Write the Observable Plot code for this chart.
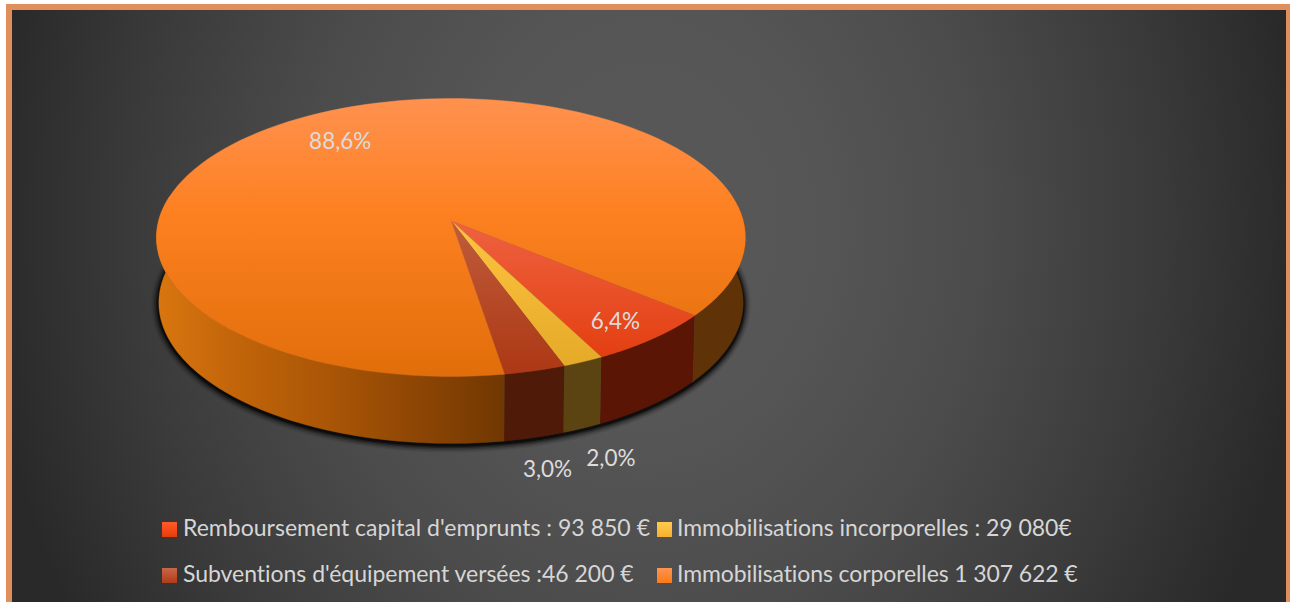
<!DOCTYPE html>
<html lang="fr">
<head>
<meta charset="utf-8">
<script src="https://cdn.jsdelivr.net/npm/d3@7"></script>
<script src="https://cdn.jsdelivr.net/npm/@observablehq/plot@0.6"></script>
<style>
html,body{margin:0;padding:0;background:#fff;width:1290px;height:602px;overflow:hidden}
#panel{position:absolute;left:6px;top:4px;width:1284px;height:598px;box-sizing:border-box;
  border:solid #DF8E5C;border-width:6px 4px 0 6px;
  background:radial-gradient(ellipse 660px 800px at 633px 215px,#585858 0%,#565656 25%,#4c4c4c 50%,#3a3a3a 78%,#292929 100%)}
#chart{position:absolute;left:0;top:0}
#chart svg{display:block;background:transparent}
.lg{position:absolute;font:23px Lato,sans-serif;color:#d6d6d6;white-space:nowrap;line-height:28px;height:28px}
.sw{position:absolute;width:15px;height:15px}
</style>
</head>
<body>
<div id="panel"></div>
<div id="chart"></div>
<div id="legend"></div>
<script>
// ---- data ----
const categories = ["Remboursement capital d'emprunts", "Immobilisations incorporelles", "Subventions d'équipement versées", "Immobilisations corporelles"];
const amounts = [93850, 29080, 46200, 1307622];
const shares = [6.4, 2.0, 3.0, 88.6];
const percentLabels = ["6,4%", "2,0%", "3,0%", "88,6%"];
const legendLabels = ["Remboursement capital d'emprunts : 93 850 €", "Immobilisations incorporelles : 29 080€", "Subventions d'équipement versées :46 200 €", "Immobilisations corporelles 1 307 622 €"];

// ---- styling ----
const topStops = [
  [["0","#EE6240"],["1","#E23A0A"]],
  [["0","#FFC440"],["1","#E2A826"]],
  [["0","#C05C3C"],["1","#AC3714"]],
  [["0","#FF914F"],["0.42","#FD8020"],["1","#E16E0A"]]
];
const sideColors = ["#5A1504", "#5C4412", "#4F1A08", null];
const legendStops = [["#FF5A2A","#E83C0C"],["#FFCB50","#F6B02C"],["#C8664A","#B03C18"],["#FF9450","#FC7A16"]];
const legendWidths = [467, 395, 451, 401];
const shadowLayers = [[15, 0.08], [12, 0.12], [9, 0.2], [6, 0.35], [3, 0.6]];

// layout of the percent labels in the pie's own plane: radius factor and angular nudge
const labelRadius = [0.85, 1.5, 1.51, 0.743];
const labelTurn = [1.4, 6.15, 4.35, -3.5];

// ---- pie model: unit disc seen in perspective ----
const tilt = -0.1223, startDeg = 39.7;
const total = d3.sum(shares);
let acc = startDeg;
const slices = shares.map((v, i) => {
  const a0 = acc, a1 = acc + v / total * 360; acc = a1;
  return {i, a0, a1, mid: (a0 + a1) / 2, amount: amounts[i]};
});
const rad = d => d * Math.PI / 180;
function onTop(deg, r = 1) {
  const u = r * Math.cos(rad(deg)), v = r * Math.sin(rad(deg)), w = 1 + tilt * v;
  return {x: u / w, y: v / w};
}
function onBase(deg) {
  const p = onTop(deg);
  return {x: p.x * 0.992, y: p.y * 1.012 + 0.475};
}
const arc = (a0, a1, fn) => d3.range(0, 121).map(k => fn(a0 + (a1 - a0) * k / 120));
const topFace = s => [{x: 0, y: 0}, ...arc(s.a0, s.a1, onTop)];
const sideFace = (a0, a1) => [...arc(a0, a1, onTop), ...arc(a1, a0, onBase)];
// parts of a slice's rim on the viewer's side of the disc
function frontParts(s) {
  const out = [];
  for (const [lo, hi] of [[-10, 190], [350, 550]]) {
    const a = Math.max(s.a0, lo), b = Math.min(s.a1, hi);
    if (b > a) out.push([a, b]);
  }
  return out;
}

const polygon = (pts, fill, extra = {}) => Plot.line(pts, {x: "x", y: "y", fill, stroke: fill, strokeWidth: 0.4, curve: "linear", ...extra});

const shadowRing = arc(-12, 192, onBase).map(p => ({x: p.x, y: p.y + 0.012}));
const shadowMarks = shadowLayers.map(([w, o]) => Plot.line(shadowRing, {x: "x", y: "y", stroke: "#000", strokeWidth: w, strokeOpacity: o}));

const sideMarks = slices.flatMap(s => frontParts(s).map(([a, b]) => {
  const c = sideColors[s.i];
  return polygon(sideFace(a, b), c || "url(#bigSide)");
}));
const rimLight = Plot.line(arc(slices[3].a1 - 360, slices[0].a0, onBase), {x: "x", y: "y", stroke: "#94540E", strokeWidth: 0.8});
const topMarks = slices.map(s => polygon(topFace(s), `url(#top${s.i})`));

const labelRows = slices.map(s => ({...onTop(s.mid + labelTurn[s.i], labelRadius[s.i]), text: percentLabels[s.i], name: categories[s.i]}));

const svg = Plot.plot({
  width: 1290, height: 500, margin: 0,
  style: {background: "transparent", overflow: "visible"},
  x: {axis: null, domain: [-1, 1], range: [158.2, 742.8]},
  y: {axis: null, domain: [-1, 1], range: [83.1, 356.9]},
  marks: [
    ...shadowMarks,
    ...sideMarks,
    rimLight,
    ...topMarks,
    Plot.text(labelRows, {x: "x", y: "y", text: "text", fill: "#dcdcdc", fontSize: 22.5, fontFamily: "Lato, sans-serif", lineAnchor: "middle", textAnchor: "middle", dy: 0.5})
  ]
});

// gradients
const NS = "http://www.w3.org/2000/svg";
const defs = document.createElementNS(NS, "defs");
function gradient(id, attrs, stops) {
  const g = document.createElementNS(NS, "linearGradient");
  g.setAttribute("id", id);
  g.setAttribute("gradientUnits", "userSpaceOnUse");
  for (const k in attrs) g.setAttribute(k, attrs[k]);
  for (const [o, c] of stops) {
    const st = document.createElementNS(NS, "stop");
    st.setAttribute("offset", o); st.setAttribute("stop-color", c);
    g.appendChild(st);
  }
  defs.appendChild(g);
}
topStops.forEach((st, i) => {
  const range = i === 3 ? [98, 376] : [220, 376];
  gradient(`top${i}`, {x1: 0, x2: 0, y1: range[0], y2: range[1]}, st);
});
gradient("bigSide", {x1: 156, x2: 745, y1: 0, y2: 0}, [
  ["0", "#D9760F"], ["0.12", "#C4660A"], ["0.32", "#A55306"], ["0.46", "#8A4404"], ["0.59", "#703802"], ["0.6", "#603208"], ["1", "#603208"]
]);
svg.insertBefore(defs, svg.firstChild);
document.getElementById("chart").appendChild(svg);

// legend
const legend = document.getElementById("legend");
const cols = [[162, 183], [657, 677]], rows = [528, 574];
[[0, 0], [1, 0], [0, 1], [1, 1]].forEach(([c, r], i) => {
  const sw = document.createElement("div");
  sw.className = "sw";
  sw.style.left = cols[c][0] + "px";
  sw.style.top = rows[r] - 6 + "px";
  sw.style.background = `linear-gradient(${legendStops[i][0]},${legendStops[i][1]})`;
  legend.appendChild(sw);
  const t = document.createElement("div");
  t.className = "lg";
  t.style.left = cols[c][1] + "px";
  t.style.top = rows[r] - 15 + "px";
  t.textContent = legendLabels[i];
  legend.appendChild(t);
  const w = t.getBoundingClientRect().width;
  t.style.letterSpacing = ((legendWidths[i] - w) / legendLabels[i].length).toFixed(3) + "px";
});
</script>
</body>
</html>
